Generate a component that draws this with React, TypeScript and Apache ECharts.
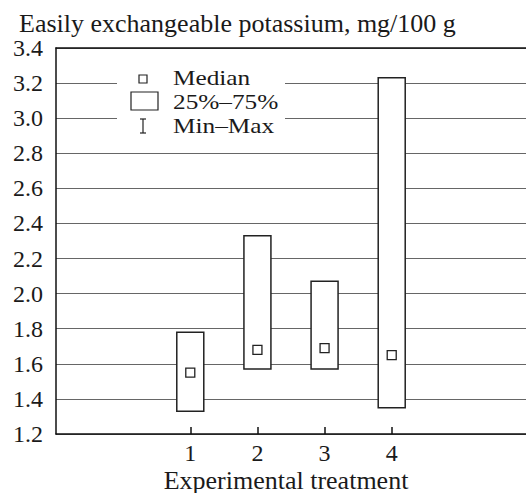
import React, { useEffect, useRef } from "react";
import * as echarts from "echarts";

const treatments = [1, 2, 3, 4];
const q1Values = [1.33, 1.57, 1.57, 1.35];
const q3Values = [1.78, 2.33, 2.07, 3.23];
const medianValues = [1.55, 1.68, 1.69, 1.65];
const yTicks = [1.2, 1.4, 1.6, 1.8, 2.0, 2.2, 2.4, 2.6, 2.8, 3.0, 3.2, 3.4];
const legendLabels = ["Median", "25%\u201375%", "Min\u2013Max"];
const yTitle = "Easily exchangeable potassium, mg/100 g";
const xTitle = "Experimental treatment";

const FONT = "Liberation Serif";
const INK = "#1a1a1a";

export default function App() {
  const ref = useRef<HTMLDivElement>(null);
  useEffect(() => {
    document.body.style.margin = "0";
    const chart = echarts.init(ref.current!, null, { renderer: "svg" });
    const data = treatments.map((t, i) => [t, q1Values[i], q3Values[i], medianValues[i]]);
    const legendText = (text: string, y: number) => ({
      type: "text",
      x: 173,
      y,
      scaleX: 1.15,
      z: 11,
      style: { text, fontFamily: FONT, fontSize: 22, fill: INK, verticalAlign: "middle" },
    });
    chart.setOption({
      animation: false,
      backgroundColor: "#fff",
      grid: { left: 56, right: 0, top: 48, bottom: 59 },
      xAxis: [
        {
          type: "value",
          min: -1,
          max: 6,
          interval: 1,
          axisLine: { show: true, onZero: false, lineStyle: { color: "#111", width: 1.5 } },
          axisTick: { show: true, inside: true, length: 7, customValues: treatments, lineStyle: { color: "#111", width: 1.5 } },
          axisLabel: { show: true, customValues: treatments, fontFamily: FONT, fontSize: 24, color: INK, margin: 7 },
          splitLine: { show: false },
        },
        {
          type: "value",
          position: "top",
          min: -1,
          max: 6,
          axisLine: { show: true, onZero: false, lineStyle: { color: "#111", width: 1.5 } },
          axisTick: { show: false },
          axisLabel: { show: false },
          splitLine: { show: false },
        },
      ],
      yAxis: {
        type: "value",
        min: yTicks[0],
        max: yTicks[yTicks.length - 1],
        interval: 0.2,
        axisLine: { show: true, onZero: false, lineStyle: { color: "#111", width: 1.5 } },
        axisTick: { show: false },
        axisLabel: {
          fontFamily: FONT,
          fontSize: 24,
          color: INK,
          margin: 13,
          formatter: (v: number) => v.toFixed(1),
        },
        splitLine: { show: true, lineStyle: { color: "#666", width: 1.2 } },
      },
      title: {
        text: yTitle,
        left: 14,
        top: 5,
        textStyle: { fontFamily: FONT, fontSize: 26, fontWeight: "normal", color: INK },
      },
      series: [
        {
          type: "custom",
          xAxisIndex: 0,
          yAxisIndex: 0,
          data,
          z: 5,
          renderItem: (params: any, api: any) => {
            const x = api.value(0);
            const top = api.coord([x, api.value(2)]);
            const bot = api.coord([x, api.value(1)]);
            const med = api.coord([x, api.value(3)]);
            const w = 27;
            const s = 9;
            return {
              type: "group",
              children: [
                {
                  type: "rect",
                  shape: { x: top[0] - w / 2, y: top[1], width: w, height: bot[1] - top[1] },
                  style: { fill: "#fff", stroke: "#222", lineWidth: 1.5 },
                },
                {
                  type: "rect",
                  shape: { x: med[0] - s / 2, y: med[1] - s / 2, width: s, height: s },
                  style: { fill: "#fff", stroke: "#222", lineWidth: 1.3 },
                },
              ],
            };
          },
        },
      ],
      graphic: [
        { type: "rect", shape: { x: 117, y: 64, width: 168, height: 76 }, style: { fill: "#fff" }, z: 10 },
        { type: "rect", shape: { x: 139, y: 75, width: 8, height: 8 }, style: { fill: "#fff", stroke: "#222", lineWidth: 1.2 }, z: 11 },
        { type: "rect", shape: { x: 131, y: 92, width: 27, height: 18 }, style: { fill: "#fff", stroke: "#222", lineWidth: 1.2 }, z: 11 },
        { type: "line", shape: { x1: 143, y1: 119, x2: 143, y2: 133 }, style: { stroke: "#222", lineWidth: 1.2 }, z: 11 },
        { type: "line", shape: { x1: 140, y1: 119, x2: 146, y2: 119 }, style: { stroke: "#222", lineWidth: 1.2 }, z: 11 },
        { type: "line", shape: { x1: 140, y1: 133, x2: 146, y2: 133 }, style: { stroke: "#222", lineWidth: 1.2 }, z: 11 },
        legendText(legendLabels[0], 78),
        legendText(legendLabels[1], 102),
        legendText(legendLabels[2], 126),
        { type: "text", x: 286, y: 480, style: { text: xTitle, fontFamily: FONT, fontSize: 26, fill: INK, align: "center", verticalAlign: "middle" }, z: 11 },
      ],
    });
    return () => chart.dispose();
  }, []);
  return <div ref={ref} style={{ width: 526, height: 493 }} />;
}
